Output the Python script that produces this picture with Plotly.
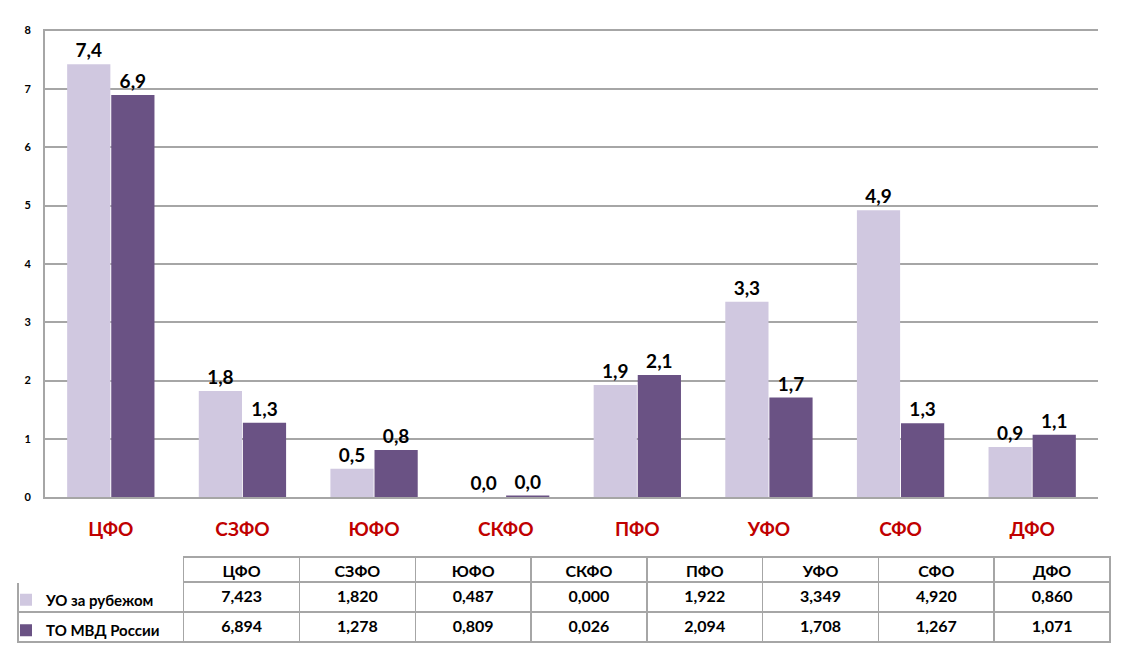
# ____________ libraries ____________
import plotly.graph_objects as go

# ____________ data ____________
districts = ["ЦФО", "СЗФО", "ЮФО", "СКФО", "ПФО", "УФО", "СФО", "ДФО"]
uo_abroad = [7.423, 1.820, 0.487, 0.000, 1.922, 3.349, 4.920, 0.860]
to_mvd = [6.894, 1.278, 0.809, 0.026, 2.094, 1.708, 1.267, 1.071]
series_names = ["УО за рубежом", "ТО МВД России"]
y_ticks = [0, 1, 2, 3, 4, 5, 6, 7, 8]

light = "#D0C8E0"
dark = "#6A5284"
grid = "#A6A6A6"
font_name = "Lato"

fig = go.Figure()

# ____________ bars ____________
for i, (name, vals, col) in enumerate([(series_names[0], uo_abroad, light),
                                       (series_names[1], to_mvd, dark)]):
    fig.add_trace(go.Bar(
        x=districts, y=vals, name=name, legendgroup="g%d" % i,
        marker=dict(color=col, line=dict(width=0)),
        texttemplate="%{y:.1f}", textposition="outside",
        textfont=dict(size=19, color="black", family=font_name, weight="bold"),
        cliponaxis=False,
    ))

# ____________ table under the chart ____________
def fmt(v):
    return ("%.3f" % v).replace(".", ",")

columns = [["", ""]] + [[fmt(a), fmt(b)] for a, b in zip(uo_abroad, to_mvd)]

fig.add_trace(go.Table(
    domain=dict(x=[18 / 1130, 1110 / 1130], y=[0.0, 1 - 561 / 665]),
    columnwidth=[166] + [116] * len(districts),
    header=dict(
        values=[""] + districts,
        fill_color="white",
        line=dict(color=["white"] + [grid] * len(districts), width=1.5),
        font=dict(size=16, color="black", family=font_name, weight="bold"),
        align="center", height=25,
    ),
    cells=dict(
        values=columns,
        fill_color="white",
        line=dict(color=grid, width=1.5),
        font=dict(size=16, color="black", family=font_name, weight="bold"),
        align="center", height=30,
    ),
))

# ____________ layout ____________
fig.update_layout(
    width=1130, height=665,
    margin=dict(l=0, r=0, t=0, b=0),
    paper_bgcolor="white", plot_bgcolor="white",
    separators=", ",
    barmode="group", bargap=0.33, bargroupgap=0.02,
    font=dict(family=font_name, color="black"),
    showlegend=True,
    legend=dict(
        x=6 / 1130, xanchor="left", y=1 - 588 / 665, yanchor="top",
        bgcolor="rgba(0,0,0,0)", tracegroupgap=8,
        font=dict(size=15, color="black", family=font_name, weight="bold"),
        itemclick=False, itemdoubleclick=False,
    ),
    xaxis=dict(
        domain=[45 / 1130, 1098 / 1130],
        showline=True, linecolor=grid, linewidth=2, mirror=True,
        showgrid=False, ticks="", ticklabelstandoff=14,
        tickfont=dict(size=19, color="#C00000", family=font_name, weight="bold"),
    ),
    yaxis=dict(
        domain=[1 - 500 / 665, 1 - 24 / 665],
        range=[0, 8], tickvals=y_ticks,
        showline=True, linecolor=grid, linewidth=2,
        showgrid=True, gridcolor=grid, gridwidth=1.5,
        zeroline=False, ticks="", ticklabelstandoff=10,
        tickfont=dict(size=11, color="black", family=font_name, weight="bold"),
    ),
)

fig.write_html("out.html", config={"displayModeBar": False},
               post_script="document.body.style.margin='0';")
